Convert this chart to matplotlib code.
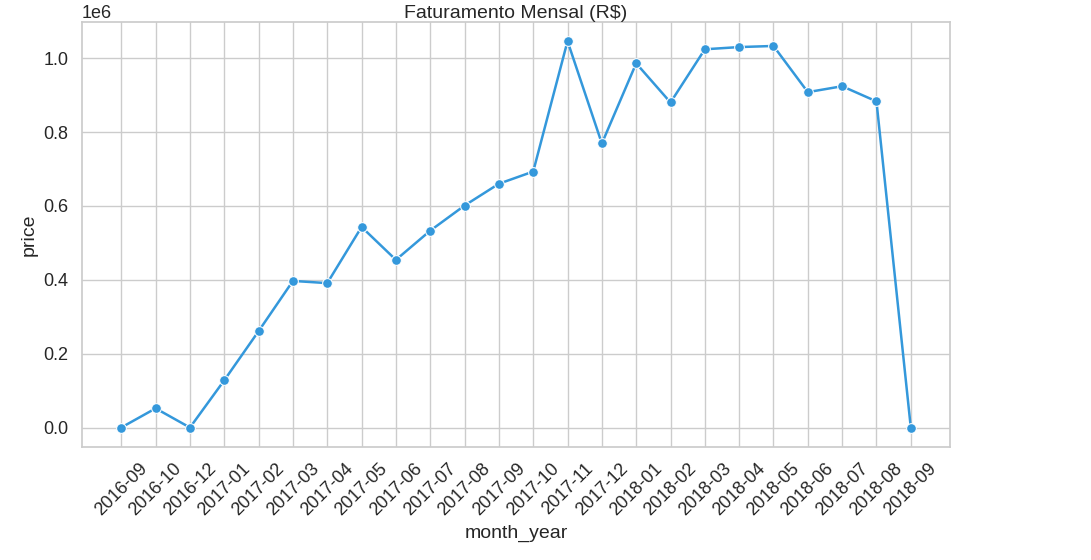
import matplotlib
matplotlib.use("Agg")
import matplotlib.pyplot as plt
import seaborn as sns

months = ["2016-09","2016-10","2016-12","2017-01","2017-02","2017-03","2017-04","2017-05",
          "2017-06","2017-07","2017-08","2017-09","2017-10","2017-11","2017-12","2018-01",
          "2018-02","2018-03","2018-04","2018-05","2018-06","2018-07","2018-08","2018-09"]
price = [134, 52000, 20, 128000, 261000, 397000, 391000, 543000,
         454000, 533000, 601000, 660000, 693000, 1046000, 769000, 986000,
         880000, 1024000, 1030000, 1033000, 908000, 924000, 883000, 145]

sns.set_theme(style="whitegrid")
plt.rcParams['font.family'] = ['Liberation Sans', 'DejaVu Sans']
plt.rcParams['xtick.labelsize'] = 13
plt.rcParams['ytick.labelsize'] = 13
plt.rcParams['axes.labelsize'] = 14
plt.rcParams['axes.titlesize'] = 14
plt.rcParams['font.size'] = 13
fig = plt.figure(figsize=(10.91, 5.6), dpi=100)
ax = fig.add_axes([0.075, 0.202, 0.796, 0.759])
sns.lineplot(x=months, y=price, marker="o", color="#3498db", markersize=7, linewidth=1.8, ax=ax)
ax.set_title("Faturamento Mensal (R$)", pad=3)
ax.set_xlabel("month_year")
ax.set_ylabel("price")
ax.tick_params(axis='x', rotation=45)
for lbl in ax.get_xticklabels():
    lbl.set_color("#262626")
for lbl in ax.get_yticklabels():
    lbl.set_color("#262626")
fig.savefig("out.png", dpi=100)
